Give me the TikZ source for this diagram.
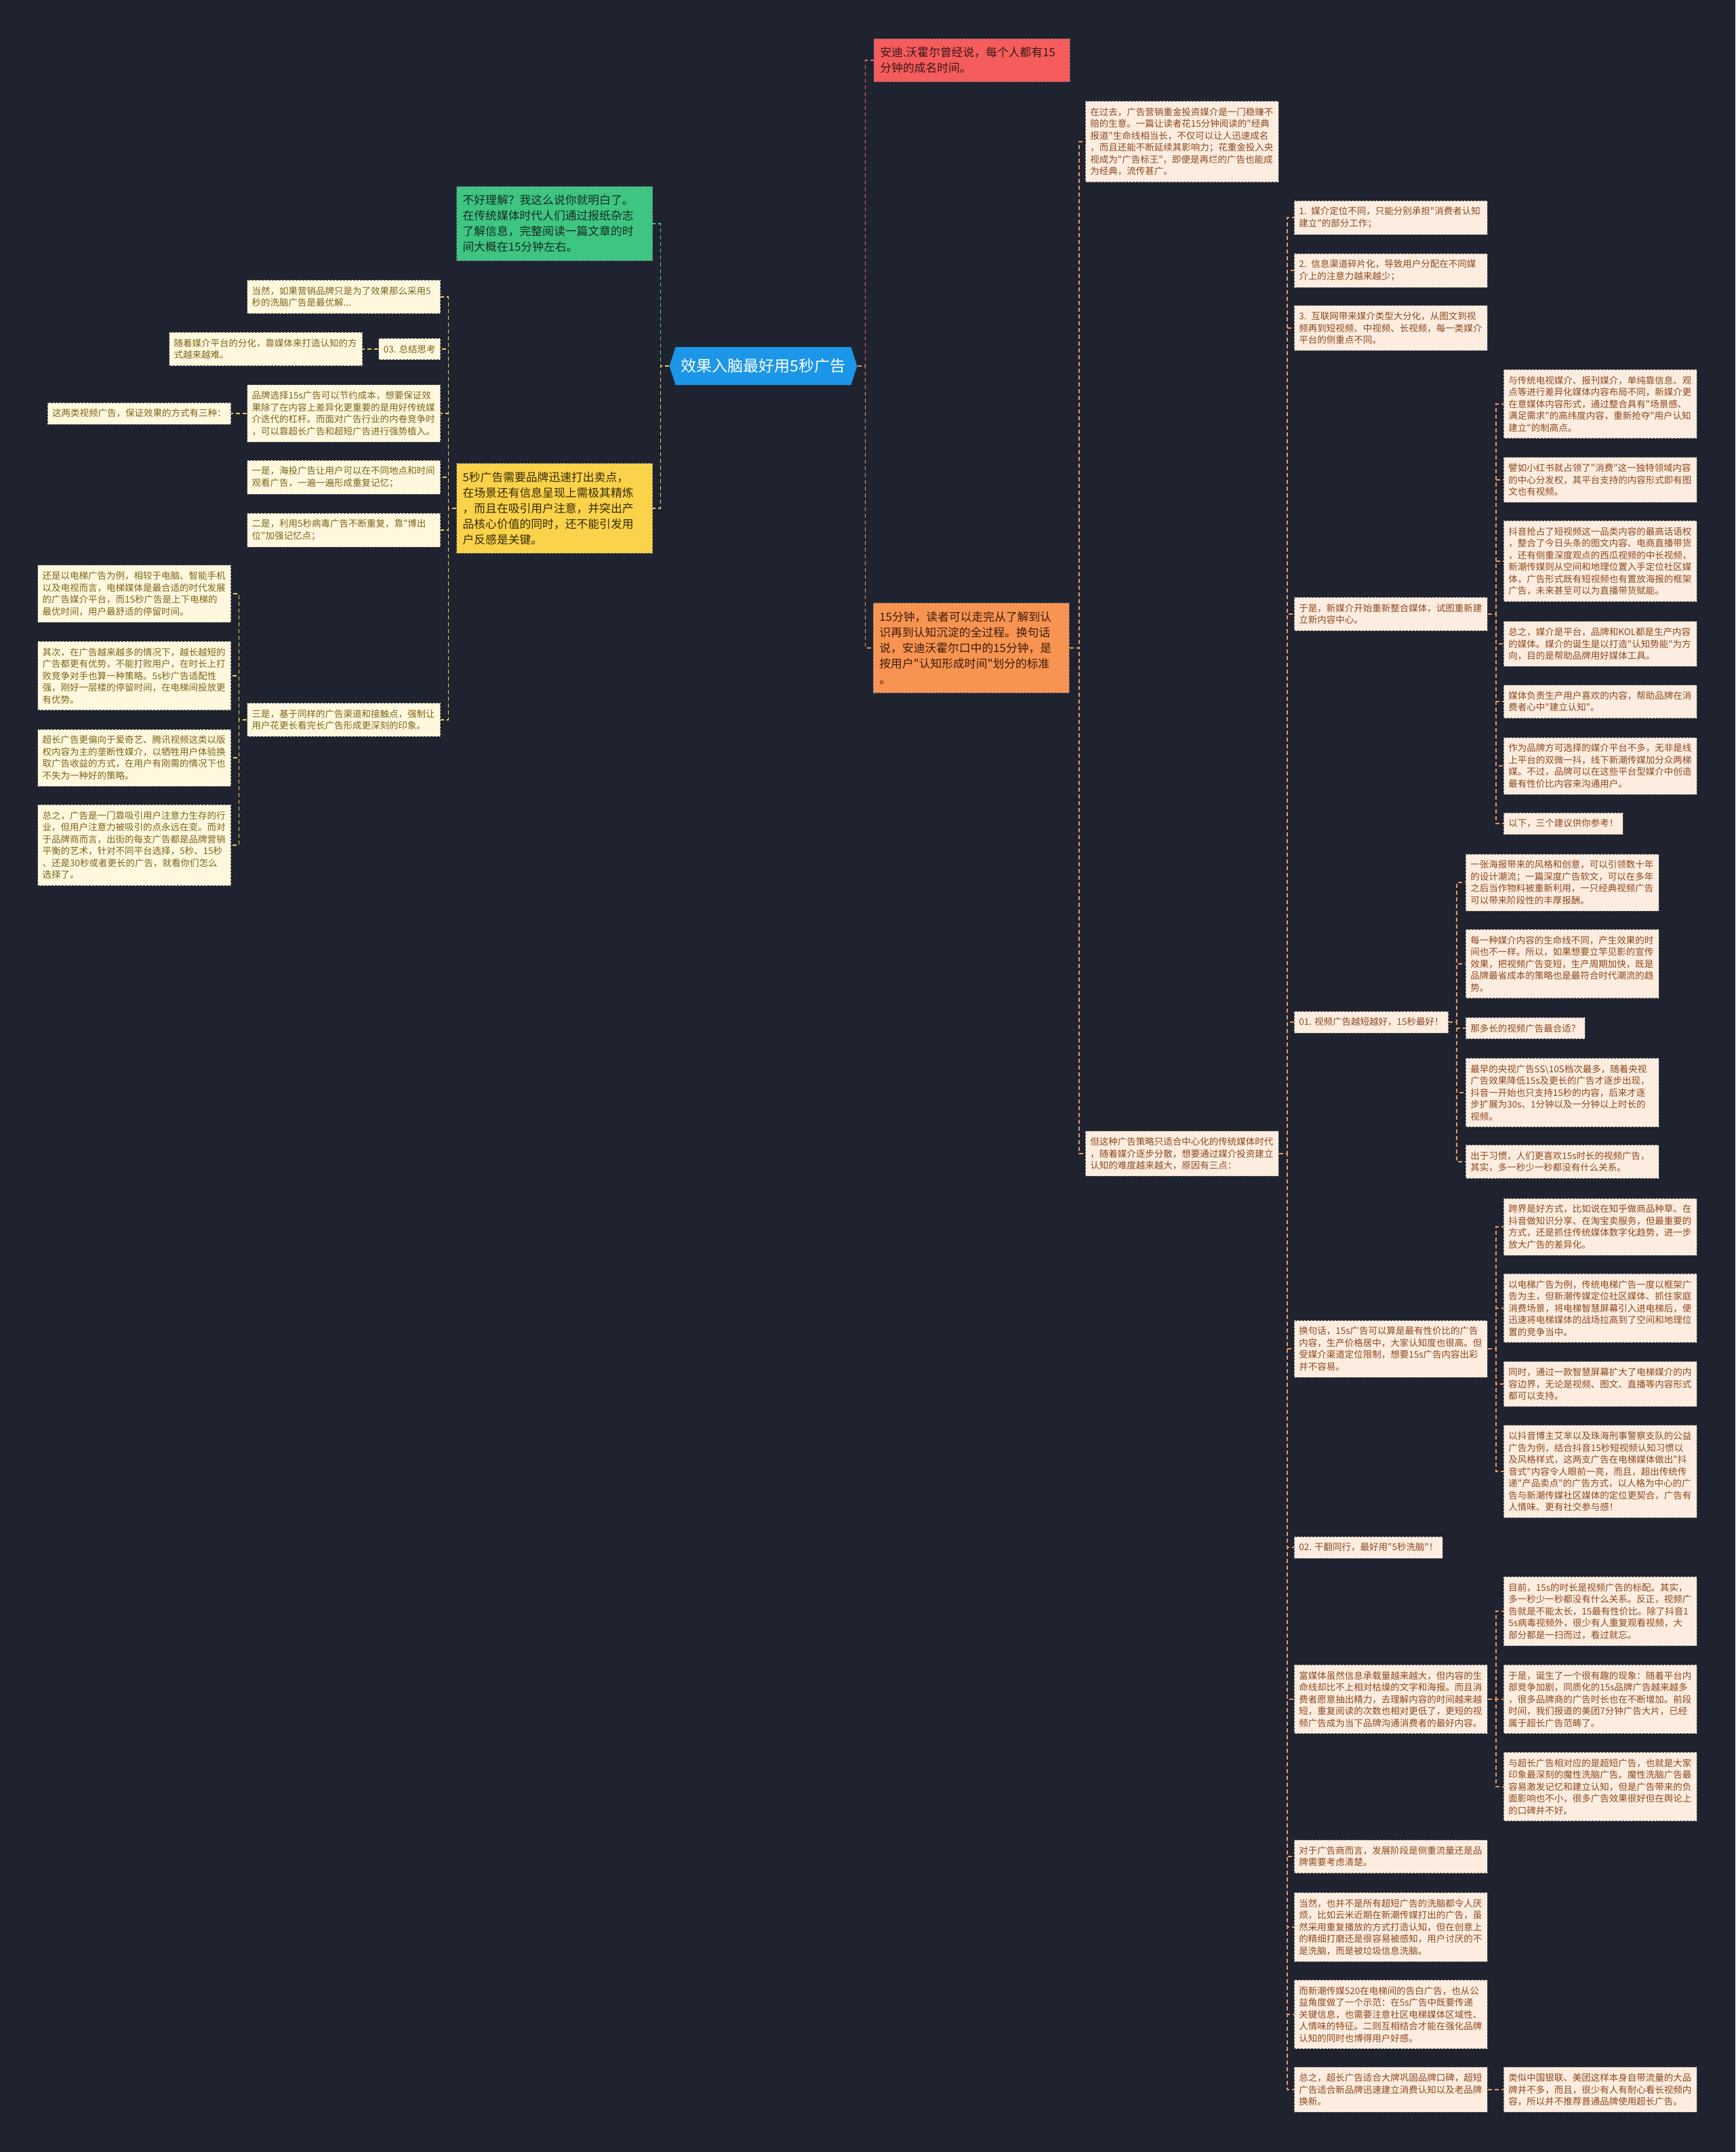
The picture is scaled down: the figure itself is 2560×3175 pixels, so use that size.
\documentclass[tikz,border=0pt]{standalone}
\usepackage{fontspec}
\setmainfont{Noto Sans CJK SC}[Ligatures=TeXOff]
\usetikzlibrary{shapes.symbols}
\definecolor{bgc}{RGB}{31,35,47}
\definecolor{rootc}{RGB}{27,150,233}
\definecolor{redc}{RGB}{245,92,92}
\definecolor{redt}{RGB}{58,22,22}
\definecolor{grnc}{RGB}{62,197,130}
\definecolor{grnt}{RGB}{22,44,32}
\definecolor{ylwc}{RGB}{251,211,74}
\definecolor{ylwt}{RGB}{52,42,10}
\definecolor{orgc}{RGB}{248,148,82}
\definecolor{orgt}{RGB}{58,28,10}
\definecolor{ylff}{RGB}{255,248,222}
\definecolor{ylft}{RGB}{125,100,25}
\definecolor{olff}{RGB}{253,237,224}
\definecolor{olft}{RGB}{140,72,30}
\definecolor{redl}{RGB}{240,98,98}
\definecolor{grnl}{RGB}{70,200,140}
\definecolor{ylwl}{RGB}{240,205,90}
\definecolor{orgl}{RGB}{232,150,100}

\begin{document}
\begin{tikzpicture}[x=1pt, y=-1pt,
    lf/.style={draw=black!65, dash pattern=on 3pt off 2pt, line width=0.8pt, align=left,
               inner xsep=7pt, inner ysep=9.5pt, font=\fontsize{13.5}{17.5}\selectfont},
    wd/.style={text width=271pt},
    ylf/.style={lf, fill=ylff, text=ylft},
    olf/.style={lf, fill=olff, text=olft},
    br/.style={draw=black!55, dash pattern=on 3pt off 2pt, line width=0.8pt, align=left,
               text width=271pt, inner xsep=9pt, inner ysep=12.5pt, font=\fontsize{16.8}{23}\selectfont},
    rt/.style={shape=signal, signal to=west and east, signal pointer angle=144, fill=rootc,
               text=white, minimum height=56pt, inner xsep=8pt, font=\fontsize{23}{28}\selectfont},
    cn/.style={line width=1.4pt, dash pattern=on 6pt off 4pt}]
  \fill[bgc] (0,0) rectangle (2560,3175);
  \useasboundingbox (0,0) rectangle (2560,3175);

  \node[rt]                           (rt) at (1126,540) {效果入脑最好用5秒广告};
  \node[br, fill=redc, text=redt, anchor=west] (rd) at (1289,89) {安迪.沃霍尔曾经说，每个人都有15\\分钟的成名时间。};
  \node[br, fill=orgc, text=orgt, anchor=west] (og) at (1288,956) {15分钟，读者可以走完从了解到认\\识再到认知沉淀的全过程。换句话\\说，安迪沃霍尔口中的15分钟，是\\按用户"认知形成时间"划分的标准\\。};
  \node[br, fill=grnc, text=grnt, anchor=east] (gn) at (963,330) {不好理解？我这么说你就明白了。\\在传统媒体时代人们通过报纸杂志\\了解信息，完整阅读一篇文章的时\\间大概在15分钟左右。};
  \node[br, fill=ylwc, text=ylwt, anchor=east] (yw) at (963,750) {5秒广告需要品牌迅速打出卖点，\\在场景还有信息呈现上需极其精炼\\，而且在吸引用户注意，并突出产\\品核心价值的同时，还不能引发用\\户反感是关键。};

  \node[ylf, wd, anchor=east] (y1)  at (650,438)  {当然，如果营销品牌只是为了效果那么采用5\\秒的洗脑广告是最优解...};
  \node[ylf, anchor=east]     (y2)  at (650,515)  {03. 总结思考};
  \node[ylf, wd, anchor=east] (y2a) at (535,515)  {随着媒介平台的分化，靠媒体来打造认知的方\\式越来越难。};
  \node[ylf, wd, anchor=east] (y3)  at (650,610)  {品牌选择15s广告可以节约成本，想要保证效\\果除了在内容上差异化更重要的是用好传统媒\\介迭代的杠杆。而面对广告行业的内卷竞争时\\，可以靠超长广告和超短广告进行强势植入。};
  \node[ylf, anchor=east]     (y3a) at (341,610)  {这两类视频广告，保证效果的方式有三种：};
  \node[ylf, wd, anchor=east] (y4)  at (650,704)  {一是，海投广告让用户可以在不同地点和时间\\观看广告，一遍一遍形成重复记忆；};
  \node[ylf, wd, anchor=east] (y5)  at (650,782)  {二是，利用5秒病毒广告不断重复，靠"博出\\位"加强记忆点；};
  \node[ylf, wd, anchor=east] (y6)  at (650,1062) {三是，基于同样的广告渠道和接触点，强制让\\用户花更长看完长广告形成更深刻的印象。};
  \node[ylf, wd, anchor=east] (y6a) at (341,876)  {还是以电梯广告为例，相较于电脑、智能手机\\以及电视而言，电梯媒体是最合适的时代发展\\的广告媒介平台，而15秒广告是上下电梯的\\最优时间，用户最舒适的停留时间。};
  \node[ylf, wd, anchor=east] (y6b) at (341,997)  {其次，在广告越来越多的情况下，越长越短的\\广告都更有优势，不能打败用户，在时长上打\\败竞争对手也算一种策略。5s秒广告适配性\\强，刚好一层楼的停留时间，在电梯间投放更\\有优势。};
  \node[ylf, wd, anchor=east] (y6c) at (341,1118) {超长广告更偏向于爱奇艺、腾讯视频这类以版\\权内容为主的垄断性媒介，以牺牲用户体验换\\取广告收益的方式，在用户有刚需的情况下也\\不失为一种好的策略。};
  \node[ylf, wd, anchor=east] (y6d) at (341,1247) {总之，广告是一门靠吸引用户注意力生存的行\\业，但用户注意力被吸引的点永远在变。而对\\于品牌商而言，出街的每支广告都是品牌营销\\平衡的艺术，针对不同平台选择，5秒、15秒\\、还是30秒或者更长的广告，就看你们怎么\\选择了。};

  \node[olf, wd, anchor=west] (o1)  at (1601,209)  {在过去，广告营销重金投资媒介是一门稳赚不\\赔的生意。一篇让读者花15分钟阅读的"经典\\报道"生命线相当长，不仅可以让人迅速成名\\，而且还能不断延续其影响力；花重金投入央\\视成为"广告标王"，即便是再烂的广告也能成\\为经典，流传甚广。};
  \node[olf, wd, anchor=west] (o2)  at (1601,1702) {但这种广告策略只适合中心化的传统媒体时代\\，随着媒介逐步分散，想要通过媒介投资建立\\认知的难度越来越大，原因有三点：};

  \node[olf, wd, anchor=west] (q1)  at (1909,321)  {1. 媒介定位不同，只能分别承担"消费者认知\\建立"的部分工作；};
  \node[olf, wd, anchor=west] (q2)  at (1909,399)  {2. 信息渠道碎片化，导致用户分配在不同媒\\介上的注意力越来越少；};
  \node[olf, wd, anchor=west] (q3)  at (1909,484)  {3. 互联网带来媒介类型大分化，从图文到视\\频再到短视频、中视频、长视频，每一类媒介\\平台的侧重点不同。};
  \node[olf, wd, anchor=west] (q4)  at (1909,906)  {于是，新媒介开始重新整合媒体，试图重新建\\立新内容中心。};
  \node[olf, anchor=west]     (q5)  at (1909,1508) {01. 视频广告越短越好，15秒最好！};
  \node[olf, wd, anchor=west] (q6)  at (1909,1990) {换句话，15s广告可以算是最有性价比的广告\\内容，生产价格居中，大家认知度也很高。但\\受媒介渠道定位限制，想要15s广告内容出彩\\并不容易。};
  \node[olf, anchor=west]     (q7)  at (1909,2283) {02. 干翻同行，最好用"5秒洗脑"！};
  \node[olf, wd, anchor=west] (q8)  at (1909,2507) {富媒体虽然信息承载量越来越大，但内容的生\\命线却比不上相对枯燥的文字和海报。而且消\\费者愿意抽出精力，去理解内容的时间越来越\\短，重复阅读的次数也相对更低了，更短的视\\频广告成为当下品牌沟通消费者的最好内容。};
  \node[olf, wd, anchor=west] (q9)  at (1909,2739) {对于广告商而言，发展阶段是侧重流量还是品\\牌需要考虑清楚。};
  \node[olf, wd, anchor=west] (q10) at (1909,2843) {当然，也并不是所有超短广告的洗脑都令人厌\\烦，比如云米近期在新潮传媒打出的广告，虽\\然采用重复播放的方式打造认知，但在创意上\\的精细打磨还是很容易被感知，用户讨厌的不\\是洗脑，而是被垃圾信息洗脑。};
  \node[olf, wd, anchor=west] (q11) at (1909,2972) {而新潮传媒520在电梯间的告白广告，也从公\\益角度做了一个示范：在5s广告中既要传递\\关键信息，也需要注意社区电梯媒体区域性、\\人情味的特征。二则互相结合才能在强化品牌\\认知的同时也博得用户好感。};
  \node[olf, wd, anchor=west] (q12) at (1909,3083) {总之，超长广告适合大牌巩固品牌口碑，超短\\广告适合新品牌迅速建立消费认知以及老品牌\\换新。};

  \node[olf, wd, anchor=west] (q4a) at (2218,596)  {与传统电视媒介、报刊媒介，单纯靠信息、观\\点等进行差异化媒体内容布局不同，新媒介更\\在意媒体内容形式，通过整合具有"场景感、\\满足需求"的高纬度内容，重新抢夺"用户认知\\建立"的制高点。};
  \node[olf, wd, anchor=west] (q4b) at (2218,708)  {譬如小红书就占领了"消费"这一独特领域内容\\的中心分发权，其平台支持的内容形式即有图\\文也有视频。};
  \node[olf, wd, anchor=west] (q4c) at (2218,828)  {抖音抢占了短视频这一品类内容的最高话语权\\，整合了今日头条的图文内容、电商直播带货\\，还有侧重深度观点的西瓜视频的中长视频，\\新潮传媒则从空间和地理位置入手定位社区媒\\体，广告形式既有短视频也有置放海报的框架\\广告，未来甚至可以为直播带货赋能。};
  \node[olf, wd, anchor=west] (q4d) at (2218,950)  {总之，媒介是平台，品牌和KOL都是生产内容\\的媒体。媒介的诞生是以打造"认知势能"为方\\向，目的是帮助品牌用好媒体工具。};
  \node[olf, wd, anchor=west] (q4e) at (2218,1035) {媒体负责生产用户喜欢的内容，帮助品牌在消\\费者心中"建立认知"。};
  \node[olf, wd, anchor=west] (q4f) at (2218,1130) {作为品牌方可选择的媒介平台不多，无非是线\\上平台的双微一抖，线下新潮传媒加分众两梯\\媒。不过，品牌可以在这些平台型媒介中创造\\最有性价比内容来沟通用户。};
  \node[olf, anchor=west]     (q4g) at (2218,1215) {以下，三个建议供你参考！};

  \node[olf, wd, anchor=west] (q5a) at (2162,1302) {一张海报带来的风格和创意，可以引领数十年\\的设计潮流；一篇深度广告软文，可以在多年\\之后当作物料被重新利用，一只经典视频广告\\可以带来阶段性的丰厚报酬。};
  \node[olf, wd, anchor=west] (q5b) at (2162,1422) {每一种媒介内容的生命线不同，产生效果的时\\间也不一样。所以，如果想要立竿见影的宣传\\效果，把视频广告变短，生产周期加快，既是\\品牌最省成本的策略也是最符合时代潮流的趋\\势。};
  \node[olf, anchor=west]     (q5c) at (2162,1517) {那多长的视频广告最合适？};
  \node[olf, wd, anchor=west] (q5d) at (2162,1612) {最早的央视广告5S\textbackslash{}10S档次最多，随着央视\\广告效果降低15s及更长的广告才逐步出现，\\抖音一开始也只支持15秒的内容，后来才逐\\步扩展为30s、1分钟以及一分钟以上时长的\\视频。};
  \node[olf, wd, anchor=west] (q5e) at (2162,1714) {出于习惯，人们更喜欢15s时长的视频广告，\\其实，多一秒少一秒都没有什么关系。};

  \node[olf, wd, anchor=west] (q6a) at (2218,1810) {跨界是好方式，比如说在知乎做商品种草、在\\抖音做知识分享、在淘宝卖服务，但最重要的\\方式，还是抓住传统媒体数字化趋势，进一步\\放大广告的差异化。};
  \node[olf, wd, anchor=west] (q6b) at (2218,1930) {以电梯广告为例，传统电梯广告一度以框架广\\告为主，但新潮传媒定位社区媒体、抓住家庭\\消费场景，将电梯智慧屏幕引入进电梯后，便\\迅速将电梯媒体的战场拉高到了空间和地理位\\置的竞争当中。};
  \node[olf, wd, anchor=west] (q6c) at (2218,2042) {同时，通过一款智慧屏幕扩大了电梯媒介的内\\容边界，无论是视频、图文、直播等内容形式\\都可以支持。};
  \node[olf, wd, anchor=west] (q6d) at (2218,2171) {以抖音博主艾芈以及珠海刑事警察支队的公益\\广告为例，结合抖音15秒短视频认知习惯以\\及风格样式，这两支广告在电梯媒体做出"抖\\音式"内容令人眼前一亮，而且，超出传统传\\递"产品卖点"的广告方式，以人格为中心的广\\告与新潮传媒社区媒体的定位更契合，广告有\\人情味、更有社交参与感！};

  \node[olf, wd, anchor=west] (q8a) at (2218,2377) {目前，15s的时长是视频广告的标配。其实，\\多一秒少一秒都没有什么关系。反正，视频广\\告就是不能太长，15最有性价比。除了抖音1\\5s病毒视频外，很少有人重复观看视频，大\\部分都是一扫而过，看过就忘。};
  \node[olf, wd, anchor=west] (q8b) at (2218,2507) {于是，诞生了一个很有趣的现象：随着平台内\\部竞争加剧，同质化的15s品牌广告越来越多\\，很多品牌商的广告时长也在不断增加。前段\\时间，我们报道的美团7分钟广告大片，已经\\属于超长广告范畴了。};
  \node[olf, wd, anchor=west] (q8c) at (2218,2636) {与超长广告相对应的是超短广告，也就是大家\\印象最深刻的魔性洗脑广告。魔性洗脑广告最\\容易激发记忆和建立认知，但是广告带来的负\\面影响也不小，很多广告效果很好但在舆论上\\的口碑并不好。};
  \node[olf, wd, anchor=west] (q12a) at (2218,3083) {类似中国银联、美团这样本身自带流量的大品\\牌并不多，而且，很少有人有耐心看长视频内\\容，所以并不推荐普通品牌使用超长广告。};

  \draw[cn, redl] (rt.east) -- ++(12,0) |- (rd.west);
  \draw[cn, orgl] (rt.east) -- ++(12,0) |- (og.west);
  \draw[cn, grnl] (rt.west) -- ++(-13,0) |- (gn.east);
  \draw[cn, ylwl] (rt.west) -- ++(-13,0) |- (yw.east);
  \foreach \p/\c in {yw/y1, yw/y2, yw/y3, yw/y4, yw/y5, yw/y6, y2/y2a, y3/y3a,
                     y6/y6a, y6/y6b, y6/y6c, y6/y6d}
    \draw[cn, ylwl] (\p.west) -- ++(-12,0) |- (\c.east);
  \foreach \c in {o1, o2}
    \draw[cn, orgl] (og.east) -- ++(14,0) |- (\c.west);
  \foreach \p/\c in {o2/q1, o2/q2, o2/q3, o2/q4, o2/q5, o2/q6, o2/q7, o2/q8, o2/q9, o2/q10,
                     o2/q11, o2/q12, q4/q4a, q4/q4b, q4/q4c, q4/q4d, q4/q4e, q4/q4f, q4/q4g,
                     q5/q5a, q5/q5b, q5/q5c, q5/q5d, q5/q5e, q6/q6a, q6/q6b, q6/q6c, q6/q6d,
                     q8/q8a, q8/q8b, q8/q8c, q12/q12a}
    \draw[cn, orgl] (\p.east) -- ++(12,0) |- (\c.west);
\end{tikzpicture}
\end{document}
